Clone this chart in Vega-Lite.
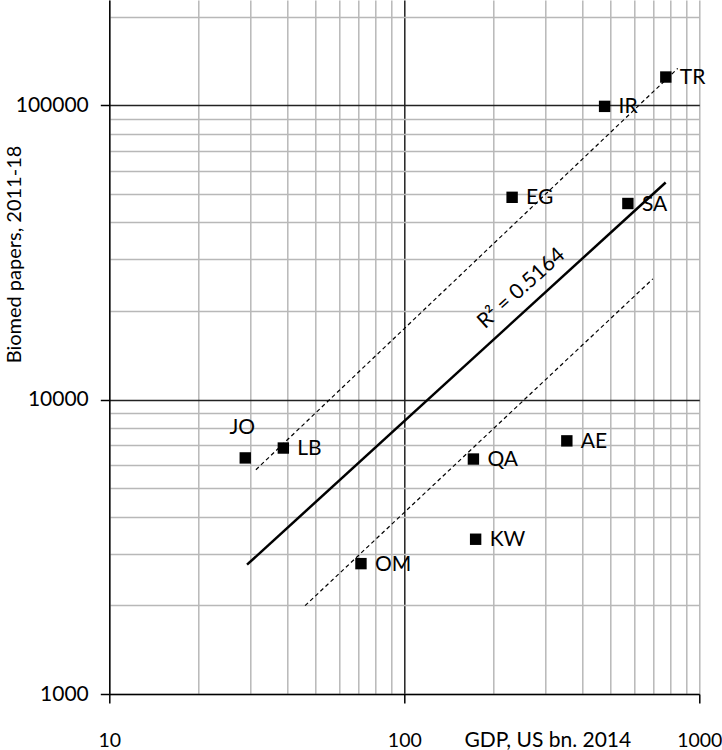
{
  "$schema": "https://vega.github.io/schema/vega-lite/v6.json",
  "width": 590,
  "height": 694,
  "autosize": {"type": "none"},
  "padding": {"left": 109.3, "top": 0, "right": 22.7, "bottom": 56},
  "background": "white",
  "config": {
    "view": {"stroke": null},
    "font": "Lato",
    "text": {"font": "Lato"}
  },
  "datasets": {
    "points": [
      {"code": "JO", "gdp": 28.9, "papers": 6340},
      {"code": "LB", "gdp": 38.9, "papers": 6850},
      {"code": "OM", "gdp": 71.3, "papers": 2773},
      {"code": "QA", "gdp": 171.5, "papers": 6285},
      {"code": "KW", "gdp": 174.5, "papers": 3356},
      {"code": "AE", "gdp": 355.6, "papers": 7245},
      {"code": "EG", "gdp": 232, "papers": 48700},
      {"code": "SA", "gdp": 572.7, "papers": 46400},
      {"code": "IR", "gdp": 477.5, "papers": 99200},
      {"code": "TR", "gdp": 770, "papers": 124800}
    ],
    "lines": [
      {"line": "fit", "gdp": 29.3, "papers": 2750},
      {"line": "fit", "gdp": 769, "papers": 54700},
      {"line": "upper", "gdp": 31.4, "papers": 5780},
      {"line": "upper", "gdp": 845, "papers": 133500},
      {"line": "lower", "gdp": 46.1, "papers": 1996},
      {"line": "lower", "gdp": 696, "papers": 25740}
    ],
    "note": [
      {"gdp": 249.5, "papers": 23830, "label": "R² = 0.5164"}
    ]
  },
  "encoding": {
    "x": {
      "field": "gdp",
      "type": "quantitative",
      "scale": {"type": "log", "domain": [10, 1000], "nice": false},
      "axis": {
        "values": [10, 20, 30, 40, 50, 60, 70, 80, 90, 100, 200, 300, 400, 500, 600, 700, 800, 900, 1000],
        "labelExpr": "indexof([10,100,1000], datum.value) >= 0 ? format(datum.value, 'd') : ''",
        "labelOverlap": false,
        "labelFlush": false,
        "grid": true,
        "gridColor": {"condition": {"test": "datum.value == 100", "value": "#222222"}, "value": "#b8b8b8"},
        "gridWidth": 1.5,
        "tickColor": {"condition": {"test": "indexof([10,100,1000], datum.value) >= 0", "value": "#000000"}, "value": "transparent"},
        "tickSize": 9,
        "tickWidth": 1.5,
        "domainColor": "#000000",
        "domainWidth": 1.5,
        "labelFont": "Lato",
        "labelFontSize": 19.5,
        "labelColor": "#000000",
        "labelBaseline": "alphabetic",
        "labelPadding": 43,
        "title": "GDP, US bn. 2014",
        "titleFont": "Lato",
        "titleFontSize": 21,
        "titleFontWeight": "normal",
        "titleColor": "#000000",
        "titleX": 438,
        "titleY": 52.7,
        "titleBaseline": "alphabetic",
        "titleAlign": "center",
        "titleAnchor": null
      }
    },
    "y": {
      "field": "papers",
      "type": "quantitative",
      "scale": {"type": "log", "domain": [1000, 228000], "nice": false},
      "axis": {
        "values": [1000, 2000, 3000, 4000, 5000, 6000, 7000, 8000, 9000, 10000, 20000, 30000, 40000, 50000, 60000, 70000, 80000, 90000, 100000, 200000],
        "labelExpr": "indexof([1000,10000,100000], datum.value) >= 0 ? format(datum.value, 'd') : ''",
        "labelOverlap": false,
        "labelFlush": false,
        "grid": true,
        "gridColor": {"condition": {"test": "datum.value == 10000 || datum.value == 100000", "value": "#222222"}, "value": "#b8b8b8"},
        "gridWidth": 1.5,
        "tickColor": {"condition": {"test": "indexof([1000,10000,100000], datum.value) >= 0", "value": "#000000"}, "value": "transparent"},
        "tickSize": 9,
        "tickWidth": 1.5,
        "domainColor": "#000000",
        "domainWidth": 1.5,
        "labelFont": "Lato",
        "labelFontSize": 21,
        "labelColor": "#000000",
        "labelBaseline": "middle",
        "labelPadding": 12,
        "title": "Biomed papers, 2011-18",
        "titleFont": "Lato",
        "titleFontSize": 20,
        "titleFontWeight": "normal",
        "titleColor": "#000000",
        "titleAngle": -90,
        "titleX": -89,
        "titleY": 254,
        "titleBaseline": "alphabetic",
        "titleAlign": "center",
        "titleAnchor": null
      }
    }
  },
  "layer": [
    {
      "data": {"name": "lines"},
      "transform": [{"filter": "datum.line != 'fit'"}],
      "mark": {"type": "line", "color": "#000000", "strokeWidth": 1.2, "strokeDash": [4, 3]},
      "encoding": {"detail": {"field": "line", "type": "nominal"}}
    },
    {
      "data": {"name": "lines"},
      "transform": [{"filter": "datum.line == 'fit'"}],
      "mark": {"type": "line", "color": "#000000", "strokeWidth": 2.5}
    },
    {
      "data": {"name": "points"},
      "mark": {"type": "point", "shape": "square", "filled": true, "size": 130, "color": "#000000", "opacity": 1}
    },
    {
      "data": {"name": "points"},
      "transform": [{"filter": "datum.code != 'JO'"}],
      "mark": {"type": "text", "align": "left", "baseline": "middle", "dx": 14, "dy": 1, "fontSize": 21, "font": "Lato", "color": "#000000"},
      "encoding": {"text": {"field": "code", "type": "nominal"}}
    },
    {
      "data": {"name": "points"},
      "transform": [{"filter": "datum.code == 'JO'"}],
      "mark": {"type": "text", "align": "center", "baseline": "middle", "dx": -3, "dy": -30, "fontSize": 21, "font": "Lato", "color": "#000000"},
      "encoding": {"text": {"field": "code", "type": "nominal"}}
    },
    {
      "data": {"name": "note"},
      "mark": {"type": "text", "align": "center", "baseline": "middle", "angle": -42, "fontSize": 21, "font": "Lato", "color": "#000000"},
      "encoding": {"text": {"field": "label", "type": "nominal"}}
    }
  ]
}
